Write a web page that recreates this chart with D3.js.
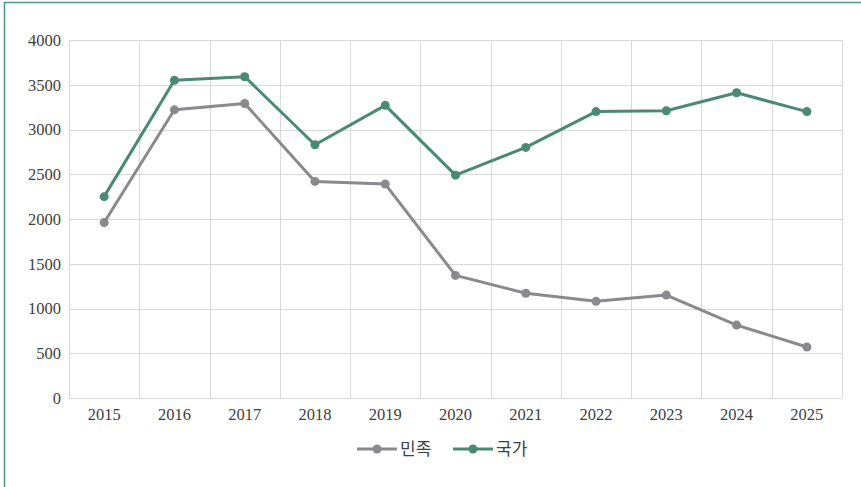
<!DOCTYPE html>
<html>
<head>
<meta charset="utf-8">
<script src="https://cdn.jsdelivr.net/npm/d3@7"></script>
<style>
  body { margin: 0; background: #fff; }
  .tick text { font-family: "Liberation Serif", serif; font-size: 16.5px; fill: #404040; }
</style>
</head>
<body>
<div id="chart"></div>
<script>
var years = ['2015', '2016', '2017', '2018', '2019', '2020', '2021', '2022', '2023', '2024', '2025']
var minjok = [1960, 3220, 3290, 2420, 2390, 1370, 1170, 1080, 1150, 815, 570]
var gukga = [2250, 3550, 3590, 2830, 3270, 2490, 2800, 3200, 3210, 3410, 3200]
var yTicks = [0, 500, 1000, 1500, 2000, 2500, 3000, 3500, 4000]

var seriesNames = ['민족', '국가']
var seriesColors = ['#8a898d', '#4a8a72']

var width = 861, height = 487
var margin = { top: 40, right: 19, bottom: 89, left: 69 }

var svg = d3.select('#chart')
    .append('svg')
    .attr('width', width)
    .attr('height', height)

// outer frame (only left and top visible)
svg.append('rect')
    .attr('x', 4.5)
    .attr('y', 2.5)
    .attr('width', 900)
    .attr('height', 600)
    .attr('fill', 'none')
    .attr('stroke', '#4a9a80')
    .attr('stroke-width', 1.5)

var g = svg.append('g')
    .attr('transform', `translate(${margin.left},${margin.top})`)

var w = width - margin.left - margin.right
var h = height - margin.top - margin.bottom

var x = d3.scaleBand()
    .domain(years)
    .range([0, w])

var y = d3.scaleLinear()
    .domain([0, 4000])
    .range([h, 0])

// horizontal grid
g.append('g')
    .selectAll('line')
    .data(yTicks)
    .enter()
    .append('line')
    .attr('x1', 0)
    .attr('x2', w)
    .attr('y1', d => Math.round(y(d)) + 0.5)
    .attr('y2', d => Math.round(y(d)) + 0.5)
    .attr('stroke', '#d9d9d9')
    .attr('stroke-width', 1)

// vertical grid (band edges)
var edges = years.map(d => x(d)).concat([w])
g.append('g')
    .selectAll('line')
    .data(edges)
    .enter()
    .append('line')
    .attr('x1', d => Math.round(d) + 0.5)
    .attr('x2', d => Math.round(d) + 0.5)
    .attr('y1', 0)
    .attr('y2', h)
    .attr('stroke', '#d9d9d9')
    .attr('stroke-width', 1)

var yAxis = g.append('g')
    .call(d3.axisLeft(y).tickValues(yTicks).tickSize(0).tickPadding(8).tickFormat(d3.format('d')))
yAxis.select('.domain').remove()

var xAxis = g.append('g')
    .attr('transform', `translate(0,${h})`)
    .call(d3.axisBottom(x).tickSize(0).tickPadding(10))
xAxis.select('.domain').remove()

var allSeries = [minjok, gukga]

var line = d3.line()
    .x((d, i) => x(years[i]) + x.bandwidth() / 2)
    .y(d => y(d))

allSeries.forEach((vals, si) => {
    g.append('path')
        .datum(vals)
        .attr('d', line)
        .attr('fill', 'none')
        .attr('stroke', seriesColors[si])
        .attr('stroke-width', 3)
        .attr('stroke-linejoin', 'round')

    g.selectAll('.dot' + si)
        .data(vals)
        .enter()
        .append('circle')
        .attr('class', 'dot' + si)
        .attr('cx', (d, i) => x(years[i]) + x.bandwidth() / 2)
        .attr('cy', d => y(d))
        .attr('r', 4.5)
        .attr('fill', seriesColors[si])
})

// legend
var legend = svg.append('g')
    .attr('transform', 'translate(357,449)')

var legendItems = legend.selectAll('g')
    .data(seriesNames)
    .enter()
    .append('g')
    .attr('transform', (d, i) => `translate(${i * 96},0)`)

legendItems.append('line')
    .attr('x1', 0)
    .attr('x2', 40)
    .attr('y1', 0)
    .attr('y2', 0)
    .attr('stroke', (d, i) => seriesColors[i])
    .attr('stroke-width', 3)

legendItems.append('circle')
    .attr('cx', 20)
    .attr('cy', 0)
    .attr('r', 4.5)
    .attr('fill', (d, i) => seriesColors[i])

legendItems.append('text')
    .attr('x', 43)
    .attr('y', 0)
    .attr('dy', '0.35em')
    .style('font-family', '"Noto Sans CJK KR", sans-serif')
    .style('font-size', '17px')
    .style('fill', '#404040')
    .text(d => d)
</script>
</body>
</html>
